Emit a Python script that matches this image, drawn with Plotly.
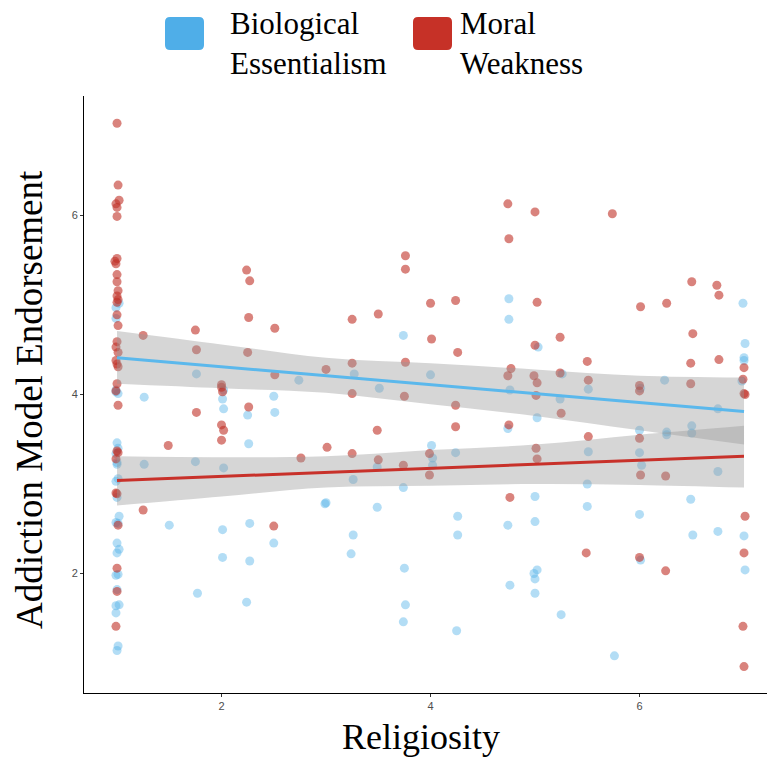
import plotly.graph_objects as go

# ---------------- data ----------------
bio_x = [1.02, 0.99, 0.99, 0.99, 1.01, 1.00, 1.01, 0.99, 1.00, 1.01, 0.99, 1.00, 1.02, 0.99, 1.01,
         1.00, 1.02, 1.00, 1.01, 0.99, 1.00, 1.02, 0.99, 0.99, 1.01, 1.00, 0.99, 1.00,
         1.26, 1.76, 2.02, 2.01, 2.02, 2.25, 2.26, 1.26, 1.75, 2.02, 1.50, 2.01, 2.27, 2.01, 2.27, 1.77, 2.24,
         2.74, 3.27, 3.51, 3.74, 4.00, 2.50, 2.51, 4.01, 4.24, 4.02, 3.49, 4.02, 3.26, 3.74, 2.99, 3.00,
         3.49, 2.50, 3.26, 3.24, 4.26, 4.26, 3.75, 3.76, 3.74, 4.25,
         4.75, 4.75, 6.99, 5.03, 7.01, 7.00, 7.00, 5.26, 6.24, 6.01, 4.76, 5.51, 5.24, 6.75, 5.02, 4.74,
         6.00, 6.26, 6.26, 6.50, 6.50, 5.51, 6.00, 6.02, 6.75, 5.50, 5.00, 5.50, 6.49, 4.74, 5.00, 6.00,
         6.51, 6.75, 7.00, 7.01, 6.01, 5.02, 4.99, 5.00, 4.76, 5.00, 5.25, 5.76, 6.98]
bio_y = [5.02, 4.97, 4.85, 4.05, 4.01, 3.46, 3.40, 3.34, 3.24, 3.06, 3.03, 2.85, 2.64, 2.57, 2.56,
         2.34, 2.27, 2.23, 1.99, 1.98, 1.82, 1.65, 1.64, 1.56, 1.19, 1.14, 4.03, 3.22,
         3.97, 4.23, 4.05, 3.95, 3.84, 3.77, 3.45, 3.22, 3.25, 3.18, 2.54, 2.49, 2.56, 2.18, 2.14, 1.78, 1.68,
         4.16, 4.23, 4.07, 4.66, 4.22, 3.98, 3.80, 3.43, 3.35, 3.29, 3.19, 3.21, 3.05, 2.96, 2.78, 2.79,
         2.74, 2.34, 2.43, 2.22, 2.64, 2.43, 2.06, 1.65, 1.46, 1.36,
         5.07, 4.84, 5.02, 4.53, 4.57, 4.41, 4.38, 4.23, 4.16, 4.07, 4.05, 4.06, 3.95, 3.84, 3.74, 3.62,
         3.60, 3.58, 3.55, 3.65, 3.57, 3.36, 3.35, 3.21, 3.14, 3.00, 2.86, 2.75, 2.83, 2.54, 2.58, 2.66,
         2.43, 2.47, 2.42, 2.04, 2.15, 2.04, 2.00, 1.94, 1.87, 1.78, 1.54, 1.08, 4.15]

moral_x = [1.00, 1.01, 1.02, 0.99, 1.00, 1.00, 1.00, 0.98, 0.99, 1.00, 1.00, 1.01, 1.00, 1.01, 1.00,
           1.00, 1.01, 1.00, 0.99, 1.01, 0.99, 1.00, 1.01, 1.00, 0.99, 1.01, 1.00, 1.01, 0.99, 0.99,
           1.00, 1.01, 1.00, 1.00, 0.99,
           1.25, 1.75, 1.76, 2.00, 2.00, 2.01, 2.24, 2.27, 2.26, 2.25, 1.76, 2.00, 2.02, 2.00, 2.26, 1.49, 1.25,
           2.51, 2.51, 3.00, 3.25, 3.25, 3.25, 3.50, 3.76, 3.76, 3.76, 3.75, 4.00, 4.01, 4.24, 4.26, 4.24,
           4.24, 3.49, 3.01, 3.25, 3.99, 2.76, 3.50, 3.74, 3.99, 2.50,
           4.74, 5.00, 5.74, 4.75, 5.02, 6.01, 6.26, 6.50, 6.74, 6.76, 5.00, 5.24, 6.51, 7.00, 4.77, 4.74,
           4.99, 5.02, 5.24, 5.50, 5.51, 6.49, 6.76, 6.49, 6.99, 7.00, 7.01, 6.00, 6.00, 5.01, 5.25, 4.75,
           6.00, 5.51, 5.01, 5.02, 6.01, 6.25, 4.76, 7.01, 7.00, 5.49, 6.00, 6.25, 6.99, 7.00]
moral_y = [7.03, 6.34, 6.17, 6.13, 6.09, 5.99, 5.52, 5.49, 5.46, 5.34, 5.26, 5.16, 5.10, 5.06, 5.03,
           4.89, 4.77, 4.59, 4.53, 4.47, 4.38, 4.34, 4.31, 4.12, 4.04, 3.88, 3.37, 3.35, 3.28, 2.90,
           2.89, 2.54, 2.06, 1.80, 1.41,
           4.66, 4.72, 4.50, 4.11, 4.08, 4.03, 5.39, 5.27, 4.86, 4.47, 3.80, 3.66, 3.60, 3.49, 3.86, 3.43, 2.71,
           4.74, 4.22, 4.28, 4.35, 4.01, 4.84, 4.90, 5.55, 5.40, 4.36, 3.98, 5.02, 4.62, 5.05, 4.47, 3.88,
           3.64, 3.60, 3.41, 3.34, 3.34, 3.29, 3.27, 3.21, 3.10, 2.53,
           6.13, 6.04, 6.02, 5.74, 5.03, 4.98, 5.02, 5.26, 5.22, 5.11, 4.55, 4.64, 4.68, 4.30, 4.29, 4.21,
           4.21, 4.13, 4.24, 4.37, 4.16, 4.35, 4.39, 4.12, 4.17, 4.01, 4.00, 4.10, 4.04, 3.99, 3.79, 3.66,
           3.51, 3.53, 3.40, 3.28, 3.10, 3.09, 2.85, 2.64, 2.23, 2.23, 2.18, 2.03, 1.41, 0.96]

# fitted lines and 95% confidence bands
fit_x = [1, 2, 3, 4, 5, 6, 7]
bio_fit = [4.41, 4.31, 4.21, 4.11, 4.01, 3.91, 3.81]
bio_hi = [4.71, 4.56, 4.41, 4.35, 4.28, 4.21, 4.19]
bio_lo = [4.12, 4.07, 4.02, 3.89, 3.76, 3.60, 3.44]
moral_fit = [3.04, 3.085, 3.13, 3.175, 3.22, 3.265, 3.31]
moral_hi = [3.31, 3.30, 3.31, 3.38, 3.44, 3.55, 3.65]
moral_lo = [2.76, 2.86, 2.96, 2.98, 3.00, 2.99, 2.96]

x_ticks = [2, 4, 6]
y_ticks = [2, 4, 6]
series_names = ["Biological<br>Essentialism", "Moral<br>Weakness"]

# ---------------- styling ----------------
W, H = 767, 758
ML, MR, MT, MB = 84, 0, 96, 65
PW, PH = W - ML - MR, H - MT - MB

def pxx(p):
    return (p - ML) / PW

def pxy(p):
    return (H - MB - p) / PH

BLUE_PT = "rgba(86,180,233,0.45)"
RED_PT = "rgba(192,48,38,0.6)"
BLUE_LINE = "#5BB8EC"
RED_LINE = "#C8312A"
BAND = "rgba(153,153,153,0.4)"

fig = go.Figure()
fig.add_trace(go.Scatter(x=bio_x, y=bio_y, mode="markers",
                         marker=dict(size=9, color=BLUE_PT, line=dict(width=0)),
                         showlegend=False, hoverinfo="skip"))
fig.add_trace(go.Scatter(x=moral_x, y=moral_y, mode="markers",
                         marker=dict(size=9, color=RED_PT, line=dict(width=0)),
                         showlegend=False, hoverinfo="skip"))

for lo, hi, fit, col in [(bio_lo, bio_hi, bio_fit, BLUE_LINE), (moral_lo, moral_hi, moral_fit, RED_LINE)]:
    fig.add_trace(go.Scatter(x=fit_x, y=lo, mode="lines", line=dict(width=0, shape="spline"),
                             showlegend=False, hoverinfo="skip"))
    fig.add_trace(go.Scatter(x=fit_x, y=hi, mode="lines", line=dict(width=0, shape="spline"),
                             fill="tonexty", fillcolor=BAND, showlegend=False, hoverinfo="skip"))
    fig.add_trace(go.Scatter(x=fit_x, y=fit, mode="lines", line=dict(width=3, color=col),
                             showlegend=False, hoverinfo="skip"))

x_range = [0.684, 7.22]
y_range = [0.665, 7.335]

axis_common = dict(showgrid=False, zeroline=False, showline=True, linecolor="black", linewidth=1,
                   ticks="outside", ticklen=3, tickwidth=1, tickcolor="#333333",
                   tickfont=dict(family="Liberation Sans, Arial, sans-serif", size=11, color="#4d4d4d"))

fig.update_layout(
    width=W, height=H,
    margin=dict(l=ML, r=MR, t=MT, b=MB, pad=0),
    paper_bgcolor="white", plot_bgcolor="white",
    xaxis=dict(range=x_range, tickvals=x_ticks, **axis_common),
    yaxis=dict(range=y_range, tickvals=y_ticks, **axis_common),
    showlegend=False,
)

SERIF = "Liberation Serif, Times New Roman, serif"

# axis titles
fig.add_annotation(text="Religiosity", xref="paper", yref="paper", x=pxx(421), y=pxy(737),
                   xanchor="center", yanchor="middle", showarrow=False,
                   font=dict(family=SERIF, size=36, color="black"))
fig.add_annotation(text="Addiction Model Endorsement", xref="paper", yref="paper", x=pxx(29), y=pxy(400),
                   xanchor="center", yanchor="middle", textangle=-90, showarrow=False,
                   font=dict(family=SERIF, size=37, color="black"))

# legend
def rounded_rect(x0, y0, x1, y1, r):
    rx, ry = r / PW, r / PH
    X0, X1 = pxx(x0), pxx(x1)
    Y0, Y1 = pxy(y1), pxy(y0)  # bottom, top in paper coords
    return (f"M {X0+rx},{Y0} L {X1-rx},{Y0} Q {X1},{Y0} {X1},{Y0+ry} "
            f"L {X1},{Y1-ry} Q {X1},{Y1} {X1-rx},{Y1} L {X0+rx},{Y1} Q {X0},{Y1} {X0},{Y1-ry} "
            f"L {X0},{Y0+ry} Q {X0},{Y0} {X0+rx},{Y0} Z")

legend_items = [(165, 228, "#4FAEE8", series_names[0]), (413, 458, "#C63127", series_names[1])]
for kx, tx, col, name in legend_items:
    fig.add_shape(type="path", xref="paper", yref="paper",
                  path=rounded_rect(kx, 17, kx + 39, 50, 5), fillcolor=col, line=dict(width=0))
    lines = name.split("<br>")
    for i, ln in enumerate(lines):
        fig.add_annotation(text=ln, xref="paper", yref="paper", x=pxx(tx), y=pxy(24 + 40 * i),
                           xanchor="left", yanchor="middle", showarrow=False,
                           font=dict(family=SERIF, size=31, color="black"))

fig.write_html("out.html", config={"displayModeBar": False},
               post_script="document.body.style.margin='0';document.body.style.overflow='hidden';")
